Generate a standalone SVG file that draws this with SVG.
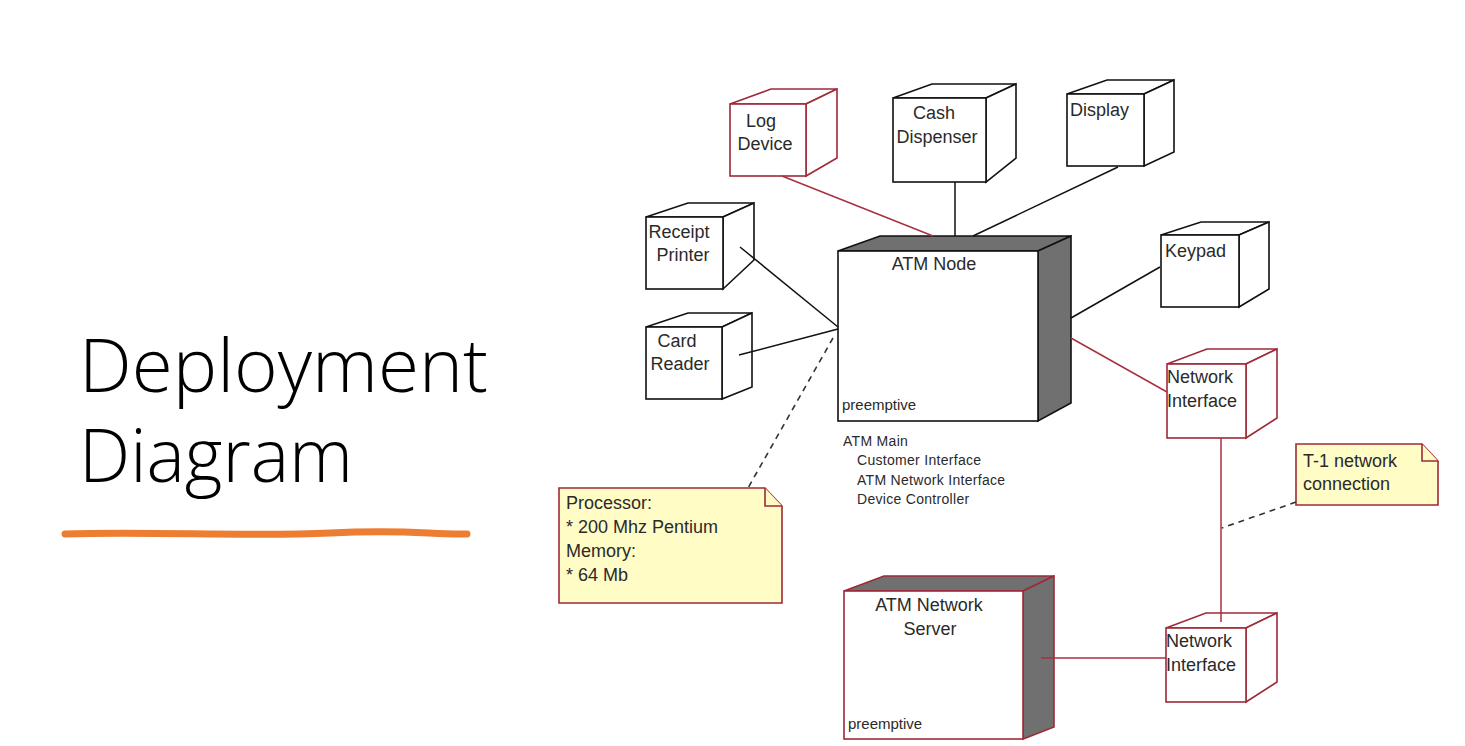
<svg xmlns="http://www.w3.org/2000/svg" width="1465" height="746" viewBox="0 0 1465 746">
<style>
.blk{fill:#fff;stroke:#111;stroke-width:1.6}
.red{fill:#fff;stroke:#9e2a38;stroke-width:1.6}
.grey{fill:#707070;stroke:#111;stroke-width:1.6}
.greyr{fill:#707070;stroke:#9e2a38;stroke-width:1.6}
.lbl{font-family:"Liberation Sans",Arial,sans-serif;font-size:18px;fill:#2a2a2a}
.sm{font-family:"Liberation Sans",Arial,sans-serif;font-size:14px;fill:#2a2a2a;letter-spacing:0.3px}
.pre{font-family:"Liberation Sans",Arial,sans-serif;font-size:15px;fill:#2a2a2a}
.cb{stroke:#111;stroke-width:1.5;fill:none}
.cr{stroke:#a8303f;stroke-width:1.5;fill:none}
.dash{stroke:#333;stroke-width:1.6;fill:none;stroke-dasharray:6 5}
.note{fill:#fffcc6;stroke:#9e2a38;stroke-width:1.6}
</style>
<rect width="1465" height="746" fill="#fff"/>
<g id="title">
<text x="79" y="392" font-family="Open Sans, Noto Sans, sans-serif" font-weight="300" font-size="73" fill="#000" textLength="409" lengthAdjust="spacingAndGlyphs">Deployment</text>
<text x="79" y="482" font-family="Open Sans, Noto Sans, sans-serif" font-weight="300" font-size="73" fill="#000" textLength="274" lengthAdjust="spacingAndGlyphs">Diagram</text>
<path d="M65 534 C150 531 250 537 330 533 S430 535 467 534" stroke="#ed7d31" stroke-width="7" stroke-linecap="round" fill="none"/>
</g>
<g id="log-device">
<polygon class="red" points="730,104 771,89 837,89 806,104"/>
<polygon class="red" points="806,104 837,89 837,158 806,176"/>
<rect class="red" x="730" y="104" width="76" height="72"/>
<text class="lbl" x="761" y="127" text-anchor="middle">Log</text>
<text class="lbl" x="765" y="150" text-anchor="middle">Device</text>
</g>
<g id="receipt-printer">
<polygon class="blk" points="646,217 688,203 754,203 723,217"/>
<polygon class="blk" points="723,217 754,203 754,260 723,289"/>
<rect class="blk" x="646" y="217" width="77" height="72"/>
<text class="lbl" x="679" y="238" text-anchor="middle">Receipt</text>
<text class="lbl" x="683" y="261" text-anchor="middle">Printer</text>
</g>
<g id="card-reader">
<polygon class="blk" points="646,327 688,313 752,313 722,327"/>
<polygon class="blk" points="722,327 752,313 752,387 722,399"/>
<rect class="blk" x="646" y="327" width="76" height="72"/>
<text class="lbl" x="677" y="347" text-anchor="middle">Card</text>
<text class="lbl" x="680" y="370" text-anchor="middle">Reader</text>
</g>
<g id="cash-dispenser">
<polygon class="blk" points="893,98 932,84 1016,84 986,98"/>
<polygon class="blk" points="986,98 1016,84 1016,158 986,182"/>
<rect class="blk" x="893" y="98" width="93" height="84"/>
<text class="lbl" x="934" y="119" text-anchor="middle">Cash</text>
<text class="lbl" x="937" y="143" text-anchor="middle">Dispenser</text>
</g>
<g id="display">
<polygon class="blk" points="1067,94 1107,80 1174,80 1144,94"/>
<polygon class="blk" points="1144,94 1174,80 1174,152 1144,166"/>
<rect class="blk" x="1067" y="94" width="77" height="72"/>
<text class="lbl" x="1070" y="116">Display</text>
</g>
<g id="keypad">
<polygon class="blk" points="1161,235 1201,222 1269,222 1239,235"/>
<polygon class="blk" points="1239,235 1269,222 1269,289 1239,307"/>
<rect class="blk" x="1161" y="235" width="78" height="72"/>
<text class="lbl" x="1165" y="257">Keypad</text>
</g>
<g id="network-interface-1">
<polygon class="red" points="1167,364 1207,349 1277,349 1246,364"/>
<polygon class="red" points="1246,364 1277,349 1277,418 1246,438"/>
<rect class="red" x="1167" y="364" width="79" height="74"/>
<text class="lbl" x="1167" y="383">Network</text>
<text class="lbl" x="1167" y="407">Interface</text>
</g>
<g id="network-interface-2">
<polygon class="red" points="1166,628 1206,613 1277,613 1246,628"/>
<polygon class="red" points="1246,628 1277,613 1277,682 1246,702"/>
<rect class="red" x="1166" y="628" width="80" height="74"/>
<text class="lbl" x="1166" y="647">Network</text>
<text class="lbl" x="1166" y="671">Interface</text>
</g>
<g id="atm-node">
<polygon class="grey" points="838,251 880,236 1071,236 1038,251"/>
<polygon class="grey" points="1038,251 1071,236 1071,403 1038,421"/>
<rect class="blk" x="838" y="251" width="200" height="170"/>
<text class="lbl" x="934" y="270" text-anchor="middle">ATM Node</text>
<text class="pre" x="842" y="410">preemptive</text>
<text class="sm" x="843" y="446">ATM Main</text>
<text class="sm" x="857" y="465">Customer Interface</text>
<text class="sm" x="857" y="485">ATM Network Interface</text>
<text class="sm" x="857" y="504">Device Controller</text>
</g>
<g id="atm-network-server">
<polygon class="greyr" points="844,591 884,576 1054,576 1023,591"/>
<polygon class="greyr" points="1023,591 1054,576 1054,727 1023,739"/>
<rect class="red" x="844" y="591" width="179" height="148"/>
<text class="lbl" x="929" y="611" text-anchor="middle">ATM Network</text>
<text class="lbl" x="930" y="635" text-anchor="middle">Server</text>
<text class="pre" x="848" y="729">preemptive</text>
</g>
<g id="note-processor">
<polygon class="note" points="559,488 765,488 782,506 782,603 559,603"/>
<polyline class="note" points="765,488 765,506 782,506"/>
<text class="lbl" x="566" y="509">Processor:</text>
<text class="lbl" x="566" y="533">* 200 Mhz Pentium</text>
<text class="lbl" x="566" y="557">Memory:</text>
<text class="lbl" x="566" y="581">* 64 Mb</text>
</g>
<g id="note-t1">
<polygon class="note" points="1296,444 1422,444 1438,461 1438,505 1296,505"/>
<polyline class="note" points="1422,444 1422,461 1438,461"/>
<text class="lbl" x="1303" y="467">T-1 network</text>
<text class="lbl" x="1303" y="490">connection</text>
</g>
<g id="connectors">
<line class="cr" x1="782" y1="176" x2="933" y2="236"/>
<line class="cb" x1="955" y1="182" x2="955" y2="236"/>
<line class="cb" x1="1118" y1="167" x2="973" y2="236"/>
<line class="cb" x1="740" y1="247" x2="838" y2="327"/>
<line class="cb" x1="739" y1="355" x2="838" y2="329"/>
<line class="dash" x1="833" y1="338" x2="748" y2="488"/>
<line class="cb" x1="1160" y1="267" x2="1071" y2="318"/>
<line class="cr" x1="1071" y1="338" x2="1167" y2="392"/>
<line class="cr" x1="1221" y1="438" x2="1221" y2="622"/>
<line class="dash" x1="1296" y1="502" x2="1222" y2="528"/>
<line class="cr" x1="1041" y1="658" x2="1166" y2="658"/>
</g>
</svg>
